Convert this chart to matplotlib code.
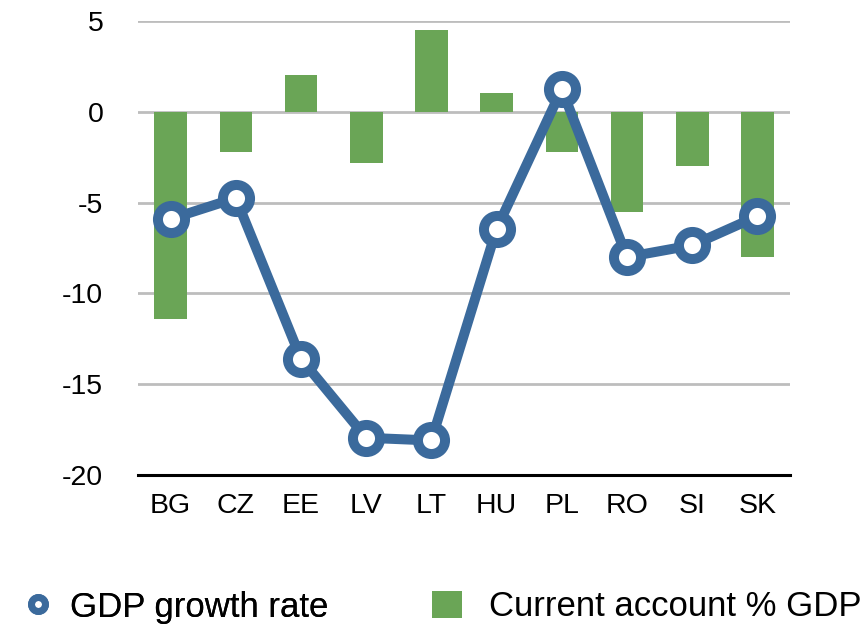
import matplotlib
matplotlib.use('Agg')
import matplotlib.pyplot as plt
from matplotlib.lines import Line2D
from matplotlib.patches import Patch

plt.rcParams['font.family'] = ['Liberation Sans', 'DejaVu Sans']

# data
countries = ['BG', 'CZ', 'EE', 'LV', 'LT', 'HU', 'PL', 'RO', 'SI', 'SK']
gdp_growth = [-5.9, -4.75, -13.6, -17.95, -18.1, -6.45, 1.25, -8.0, -7.35, -5.75]
current_account = [-11.4, -2.2, 2.0, -2.8, 4.5, 1.05, -2.2, -5.5, -3.0, -8.0]
yticks = [5, 0, -5, -10, -15, -20]

blue = '#3B6A9C'
green = '#6AA556'

fig = plt.figure(figsize=(8.67, 6.28), dpi=100)
ax = fig.add_axes([138 / 867, 1 - 475 / 628, 652 / 867, (475 - 21) / 628])

x = range(len(countries))
ax.bar(x, current_account, width=0.5, color=green, zorder=2)
ax.plot(x, gdp_growth, color=blue, linewidth=7.2, marker='o',
        markersize=19.5, markerfacecolor='white', markeredgecolor=blue,
        markeredgewidth=7.2, zorder=3)

ax.set_xlim(-0.5, len(countries) - 0.5)
ax.set_ylim(-20, 5)
ax.set_yticks(yticks)
ax.set_yticklabels([str(v) for v in yticks])
ax.set_xticks(list(x))
ax.set_xticklabels(countries)
ax.tick_params(axis='y', length=0, pad=25, labelsize=20.5)
ax.tick_params(axis='x', length=0, pad=13, labelsize=20.5)

ax.grid(axis='y', color='#bdbdbd', linewidth=2, zorder=0)
ax.set_axisbelow(True)
for s in ['left', 'right', 'top']:
    ax.spines[s].set_visible(False)
ax.spines['bottom'].set_linewidth(2.2)
ax.spines['bottom'].set_zorder(4)

# legend: two single-entry legends so the gaps can differ
common = dict(loc='center left', frameon=False, fontsize=25,
              handlelength=0.86, handleheight=0.86,
              borderpad=0, borderaxespad=0)
line_handle = Line2D([], [], linestyle='none', marker='o', markersize=10,
                     markerfacecolor='white', markeredgecolor=blue,
                     markeredgewidth=5)
bar_handle = Patch(facecolor=green, edgecolor='none')
leg1 = fig.legend([line_handle], ['GDP growth rate'],
                  bbox_to_anchor=(23 / 867, 1 - 607 / 628),
                  handletextpad=0.48, **common)
fig.add_artist(leg1)
fig.legend([bar_handle], ['Current account % GDP'],
           bbox_to_anchor=(432 / 867, 1 - 607 / 628),
           handletextpad=0.78, **common)

fig.savefig('out.png', dpi=100)
